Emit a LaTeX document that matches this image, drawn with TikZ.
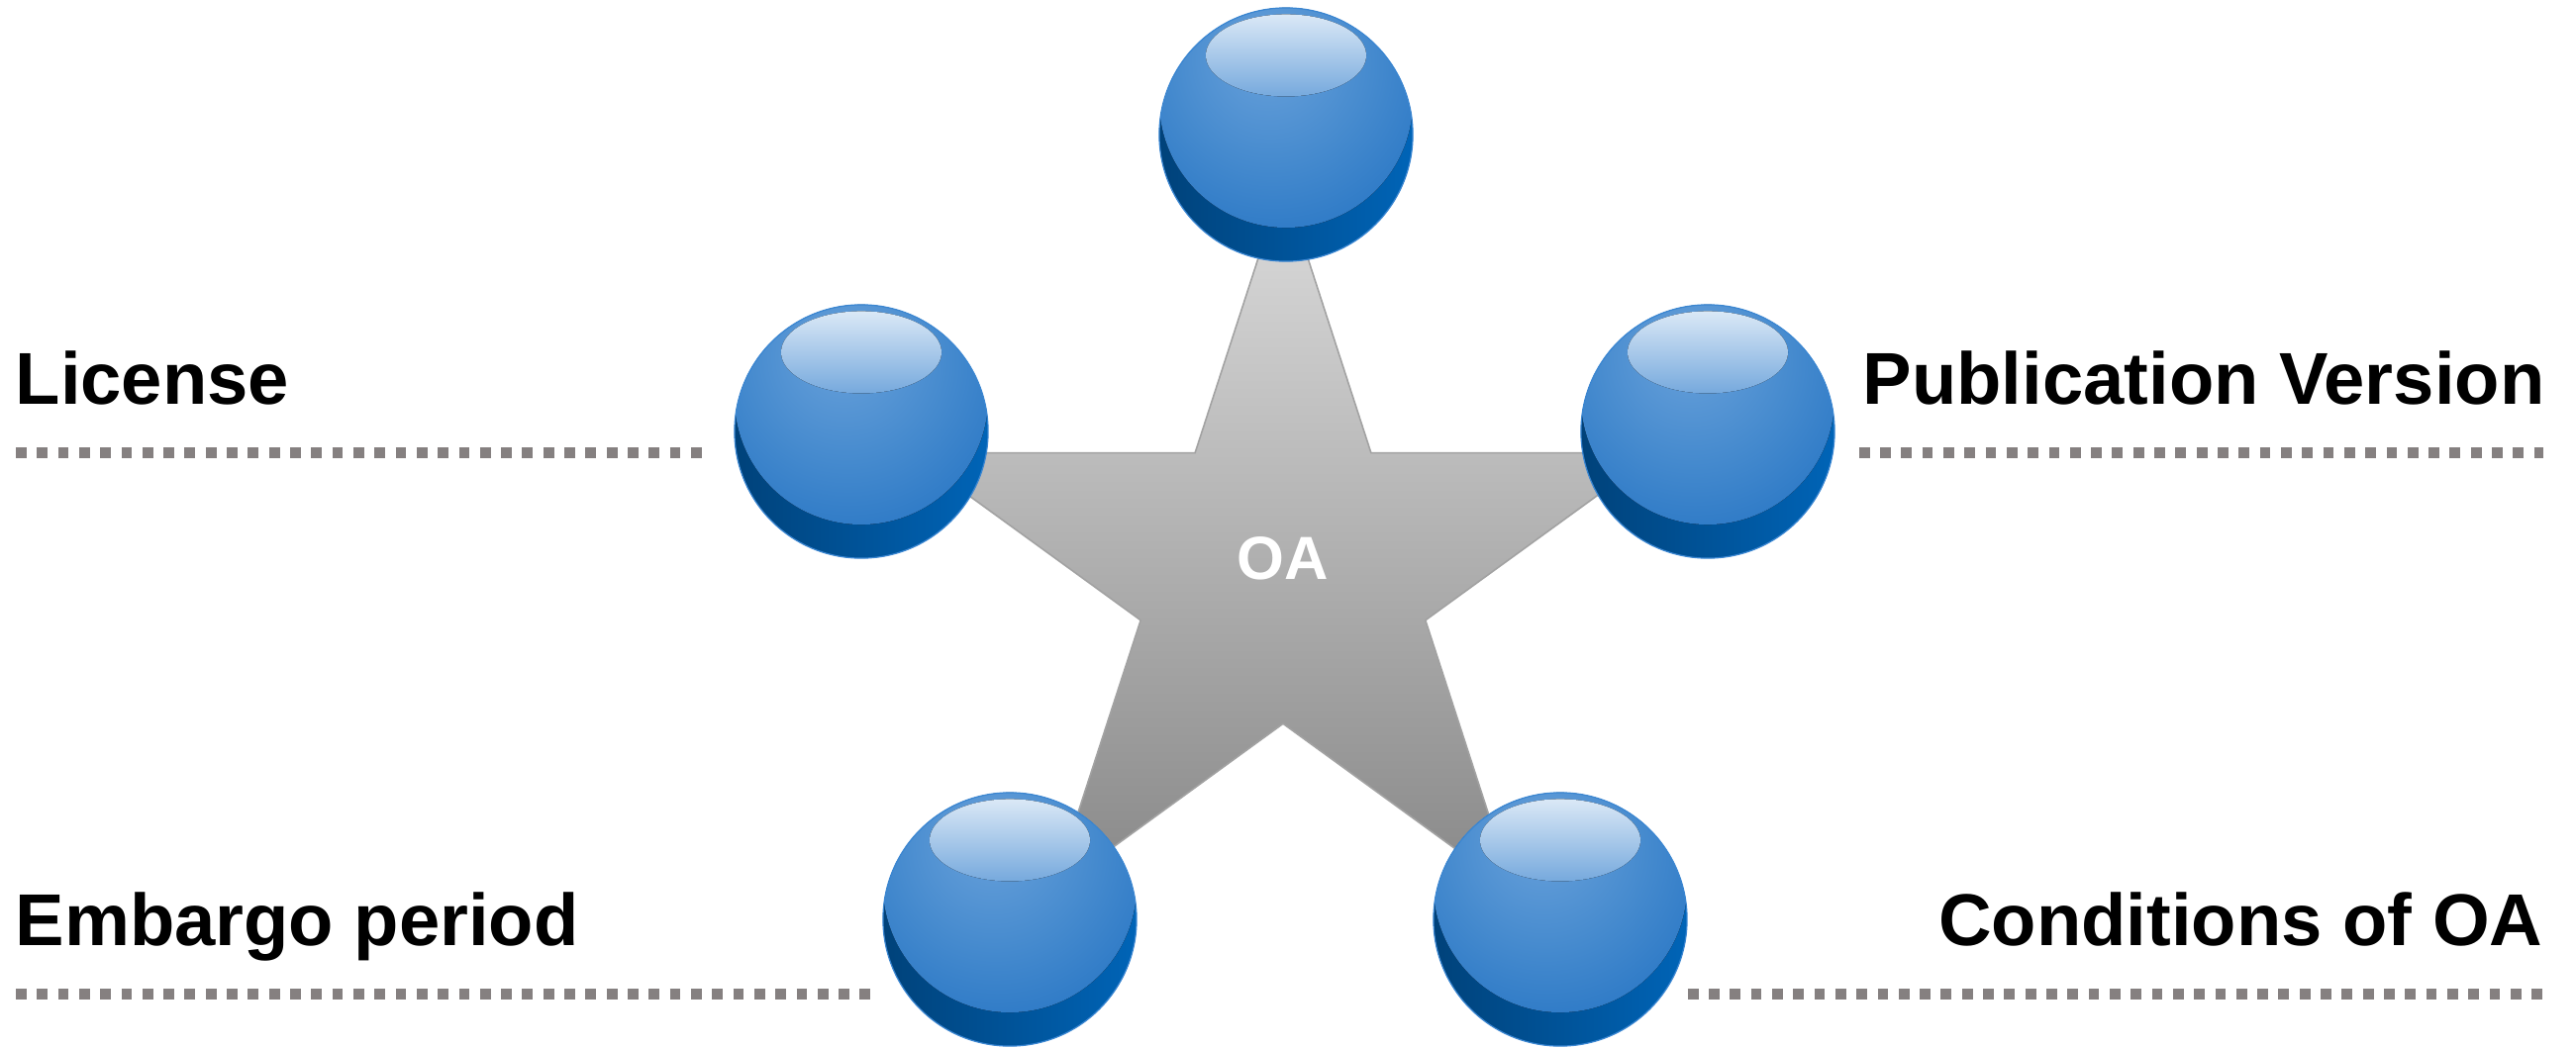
\documentclass[tikz,border=0pt]{standalone}
\usepackage{fontspec}
\setmainfont{Liberation Sans}
\usetikzlibrary{shapes.geometric}
\usetikzlibrary{positioning}

\definecolor{starTop}{HTML}{DCDCDC}
\definecolor{starMid}{HTML}{BCBCBC}
\definecolor{starBot}{HTML}{888888}
\definecolor{starRim}{HTML}{A2A2A2}
\definecolor{deepL}{HTML}{00427A}
\definecolor{deepR}{HTML}{0064B7}
\definecolor{bodyA}{HTML}{6AA2DB}
\definecolor{bodyB}{HTML}{458ACE}
\definecolor{bodyC}{HTML}{2171C2}
\definecolor{bodyD}{HTML}{1264B6}
\definecolor{glossTop}{HTML}{DAE8F6}
\definecolor{glossBot}{HTML}{76A9DD}
\definecolor{ballRim}{HTML}{3A86D2}
\definecolor{dotGray}{HTML}{858080}

\pgfdeclareradialshading{ballbody}{\pgfpoint{-4bp}{10bp}}{color(0bp)=(bodyA); color(20bp)=(bodyB); color(40bp)=(bodyC); color(50bp)=(bodyD); color(75bp)=(bodyD)}

\begin{document}
\begin{tikzpicture}[
					x=0.01cm, y=0.01cm,
					starshape/.style={star, star points=5, star point ratio=2.62, minimum size=7.92cm, inner sep=0pt,
						draw=starRim, line width=0.45pt, top color=starTop, middle color=starMid, bottom color=starBot},
					ball/.style={circle, minimum size=2.56cm, inner sep=0pt, draw=ballRim, line width=0.35pt,
						path picture={
							\fill[left color=deepL, right color=deepR] (path picture bounding box.south west) rectangle (path picture bounding box.north east);
							\fill[shading=ballbody] ([yshift=0.34cm]path picture bounding box.center) circle (1.28cm);
							\fill[top color=glossTop, bottom color=glossBot] ([yshift=0.8cm]path picture bounding box.center) ellipse (0.81cm and 0.415cm);
						}},
					oatext/.style={text=white, font=\bfseries\fontsize{17.5}{21}\selectfont, inner sep=0pt},
					caption/.style={font=\bfseries\fontsize{21.1}{25}\selectfont, inner sep=0pt},
					dotline/.style={draw=dotGray, line width=0.11cm, dash pattern=on 0.108cm off 0.105cm},
				]
					\useasboundingbox (0,0) rectangle (2602,1059);
					
					\node (oa) [starshape] at (1296,479) {};
					\node (oalabel) [oatext] at ([yshift=0.16cm]oa.center) {OA};
					
					\node (balltop) [ball] at (1299,923) {};
					\node (ballleft) [ball] at (870,623) {};
					\node (ballright) [ball] at (1725,623) {};
					\node (ballbl) [ball] at (1020,130) {};
					\node (ballbr) [ball] at (1576,130) {};
					
					\node (lic) [caption, anchor=base west] at (15,651) {License};
					\node (pub) [caption, anchor=base east] at (2571,651) {Publication Version};
					\node (emb) [caption, anchor=base west] at (15,104) {Embargo period};
					\node (cond) [caption, anchor=base east] at (2569,104) {Conditions of OA};
					
					\coordinate (licend) at (16,602);
					\coordinate (pubend) at (2569,602);
					\coordinate (embend) at (16,55);
					\coordinate (condend) at (2569,55);
					
					\draw[dotline, shorten >=0.28cm] (licend) -- (licend-|ballleft.west);
					\draw[dotline, shorten <=0.24cm] (pubend-|ballright.east) -- (pubend);
					\draw[dotline, shorten >=0.12cm] (embend) -- (embend-|ballbl.west);
					\draw[dotline] (condend-|ballbr.east) -- (condend);
				\end{tikzpicture}
\end{document}
